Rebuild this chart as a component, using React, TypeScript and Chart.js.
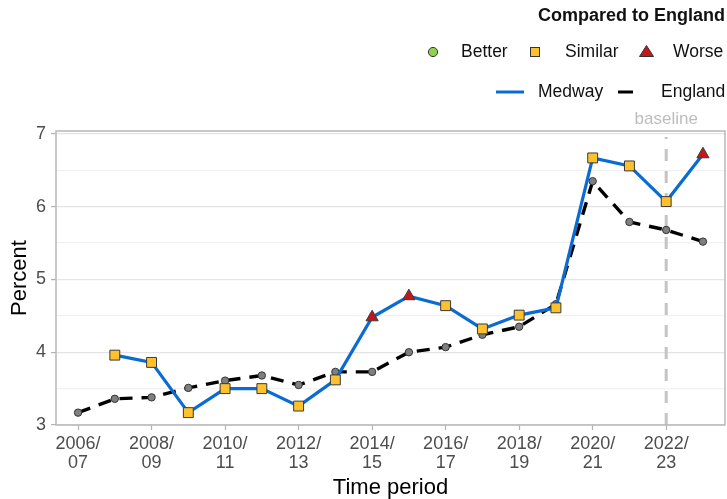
import React, { useEffect, useRef } from "react";
import { Chart, registerables } from "chart.js";

Chart.register(...registerables);

const periods = [
  "2006/07", "2007/08", "2008/09", "2009/10", "2010/11", "2011/12",
  "2012/13", "2013/14", "2014/15", "2015/16", "2016/17", "2017/18",
  "2018/19", "2019/20", "2020/21", "2021/22", "2022/23", "2023/24",
];
const medway = [null, 3.96, 3.86, 3.17, 3.5, 3.5, 3.26, 3.62, 4.48, 4.77, 4.64, 4.32, 4.51, 4.61, 6.67, 6.56, 6.07, 6.72];
const england = [3.17, 3.36, 3.38, 3.51, 3.61, 3.68, 3.55, 3.73, 3.73, 4.0, 4.07, 4.24, 4.35, 4.66, 6.35, 5.79, 5.68, 5.52];
const status = [null, "Similar", "Similar", "Similar", "Similar", "Similar", "Similar", "Similar", "Worse", "Worse", "Similar", "Similar", "Similar", "Similar", "Similar", "Similar", "Similar", "Worse"];
const yTicks = [3, 3.5, 4, 4.5, 5, 5.5, 6, 6.5, 7];
const yLabelTicks = [3, 4, 5, 6, 7];
const baselinePeriod = "2022/23";
const tickPeriods = periods.filter((_, i) => i % 2 === 0);

const FONT = "'Liberation Sans', Arial, sans-serif";
const BLUE = "#0a6bd3";
const YELLOW = "#fdc12e";
const RED = "#c2171b";
const GREEN = "#8fd14f";
const GREYPT = "#7f7f7f";

const statusStyle: Record<string, string> = { Similar: "rect", Worse: "triangle", Better: "circle" };
const statusColor: Record<string, string> = { Similar: YELLOW, Worse: RED, Better: GREEN };

const overlayPlugin = {
  id: "overlay",
  beforeDatasetsDraw(chart: any) {
    const { ctx, chartArea, scales } = chart;
    ctx.save();
    // baseline line
    const bx = scales.x.getPixelForValue(periods.indexOf(baselinePeriod));
    ctx.strokeStyle = "#c4c4c4";
    ctx.lineWidth = 3;
    ctx.setLineDash([12, 10]);
    ctx.beginPath();
    ctx.moveTo(bx, chartArea.bottom);
    ctx.lineTo(bx, chartArea.top + 6);
    ctx.stroke();
    ctx.setLineDash([]);
    ctx.fillStyle = "#bdbdbd";
    ctx.font = `17px ${FONT}`;
    ctx.textAlign = "center";
    ctx.textBaseline = "middle";
    ctx.fillText("baseline", bx, 119);
    // panel border
    ctx.strokeStyle = "#b8b8b8";
    ctx.lineWidth = 1.5;
    ctx.strokeRect(chartArea.left, chartArea.top, chartArea.right - chartArea.left, chartArea.bottom - chartArea.top);
    ctx.restore();
  },
  afterDraw(chart: any) {
    const { ctx } = chart;
    ctx.save();
    ctx.fillStyle = "#111";
    ctx.textBaseline = "middle";
    ctx.font = `bold 18px ${FONT}`;
    ctx.textAlign = "right";
    ctx.fillText("Compared to England", 725, 16);
    ctx.textAlign = "left";
    ctx.font = `17.5px ${FONT}`;
    const y2 = 52;
    ctx.strokeStyle = "#333";
    ctx.lineWidth = 1;
    // Better
    ctx.fillStyle = GREEN;
    ctx.beginPath();
    ctx.arc(433, y2, 4.6, 0, Math.PI * 2);
    ctx.fill();
    ctx.stroke();
    ctx.fillStyle = "#111";
    ctx.fillText("Better", 461, y2);
    // Similar
    ctx.fillStyle = YELLOW;
    ctx.fillRect(530.5, y2 - 4.5, 9, 9);
    ctx.strokeRect(530.5, y2 - 4.5, 9, 9);
    ctx.fillStyle = "#111";
    ctx.fillText("Similar", 565, y2);
    // Worse
    ctx.fillStyle = RED;
    ctx.beginPath();
    ctx.moveTo(646.5, y2 - 6.5);
    ctx.lineTo(653.5, y2 + 4.5);
    ctx.lineTo(639.5, y2 + 4.5);
    ctx.closePath();
    ctx.fill();
    ctx.stroke();
    ctx.fillStyle = "#111";
    ctx.fillText("Worse", 673, y2);
    // row 3
    const y3 = 92;
    ctx.lineWidth = 3;
    ctx.strokeStyle = BLUE;
    ctx.beginPath();
    ctx.moveTo(496, y3);
    ctx.lineTo(524, y3);
    ctx.stroke();
    ctx.fillText("Medway", 538, y3);
    ctx.strokeStyle = "#000";
    ctx.beginPath();
    ctx.moveTo(618, y3);
    ctx.lineTo(633, y3);
    ctx.stroke();
    ctx.fillText("England", 661, y3);
    ctx.restore();
  },
};

export default function App() {
  const ref = useRef<HTMLCanvasElement>(null);
  useEffect(() => {
    if (!ref.current) return;
    const chart = new Chart(ref.current, {
      type: "line",
      data: {
        datasets: [
          {
            label: "Medway",
            data: medway.map((v, i) => ({ x: i, y: v })),
            borderColor: BLUE,
            borderWidth: 3.2,
            pointStyle: status.map((s) => (s ? statusStyle[s] : "circle")) as any,
            pointBackgroundColor: status.map((s) => (s ? statusColor[s] : YELLOW)),
            pointBorderColor: "#3a3a3a",
            pointBorderWidth: 1,
            pointRadius: 7,
            spanGaps: false,
          },
          {
            label: "England",
            data: england.map((v, i) => ({ x: i, y: v })),
            borderColor: "#000",
            borderWidth: 3.4,
            borderDash: [13, 9],
            pointStyle: "circle",
            pointBackgroundColor: GREYPT,
            pointBorderColor: "#333",
            pointBorderWidth: 1,
            pointRadius: 3.7,
          },
        ],
      },
      options: {
        animation: false,
        responsive: false,
        maintainAspectRatio: false,
        layout: { autoPadding: false, padding: { top: 131, right: 2, left: 0, bottom: 0 } },
        plugins: { legend: { display: false }, tooltip: { enabled: false } },
        scales: {
          x: {
            type: "linear",
            min: -0.6,
            max: periods.length - 1 + 0.6,
            afterBuildTicks: (scale: any) => {
              scale.ticks = tickPeriods.map((p) => ({ value: periods.indexOf(p) }));
            },
            afterFit: (scale: any) => {
              scale.height = 74;
            },
            ticks: {
              autoSkip: false,
              maxRotation: 0,
              padding: 5,
              color: "#4d4d4d",
              font: { family: FONT, size: 18, lineHeight: 1.02 },
              callback: (v: any) => {
                const p = periods[Number(v)];
                if (!p) return "";
                const [a, b] = p.split("/");
                return [a + "/", b];
              },
            },
            grid: { drawOnChartArea: false, drawTicks: true, tickLength: 5, tickColor: "#b3b3b3", tickWidth: 1.2 },
            border: { display: false },
            title: {
              display: true,
              text: "Time period",
              color: "#000",
              font: { family: FONT, size: 22, lineHeight: 1.05 },
              padding: { top: 0, bottom: 0 },
            },
          },
          y: {
            type: "linear",
            min: 3,
            max: 7.04,
            afterBuildTicks: (scale: any) => {
              scale.ticks = yTicks.map((v) => ({ value: v }));
            },
            afterFit: (scale: any) => {
              scale.width = 56;
            },
            ticks: {
              padding: 5,
              color: "#4d4d4d",
              font: { family: FONT, size: 18 },
              callback: (v: any) => (yLabelTicks.includes(Number(v)) ? String(v) : ""),
            },
            grid: {
              color: (c: any) => (c.tick && Number.isInteger(c.tick.value) ? "#e4e4e4" : "#f1f1f1"),
              lineWidth: 1.2,
              tickLength: 5,
              tickColor: (c: any) => (c.tick && Number.isInteger(c.tick.value) ? "#b3b3b3" : "rgba(0,0,0,0)"),
              tickWidth: 1.2,
            },
            border: { display: false },
            title: {
              display: true,
              text: "Percent",
              color: "#000",
              font: { family: FONT, size: 22 },
              padding: { top: 7, bottom: 0 },
            },
          },
        },
      },
      plugins: [overlayPlugin],
    });
    return () => chart.destroy();
  }, []);
  return (
    <div style={{ position: "fixed", left: 0, top: 0, width: 727, height: 499, background: "#fff" }}>
      <canvas ref={ref} width={727} height={499} style={{ width: 727, height: 499 }} />
    </div>
  );
}
